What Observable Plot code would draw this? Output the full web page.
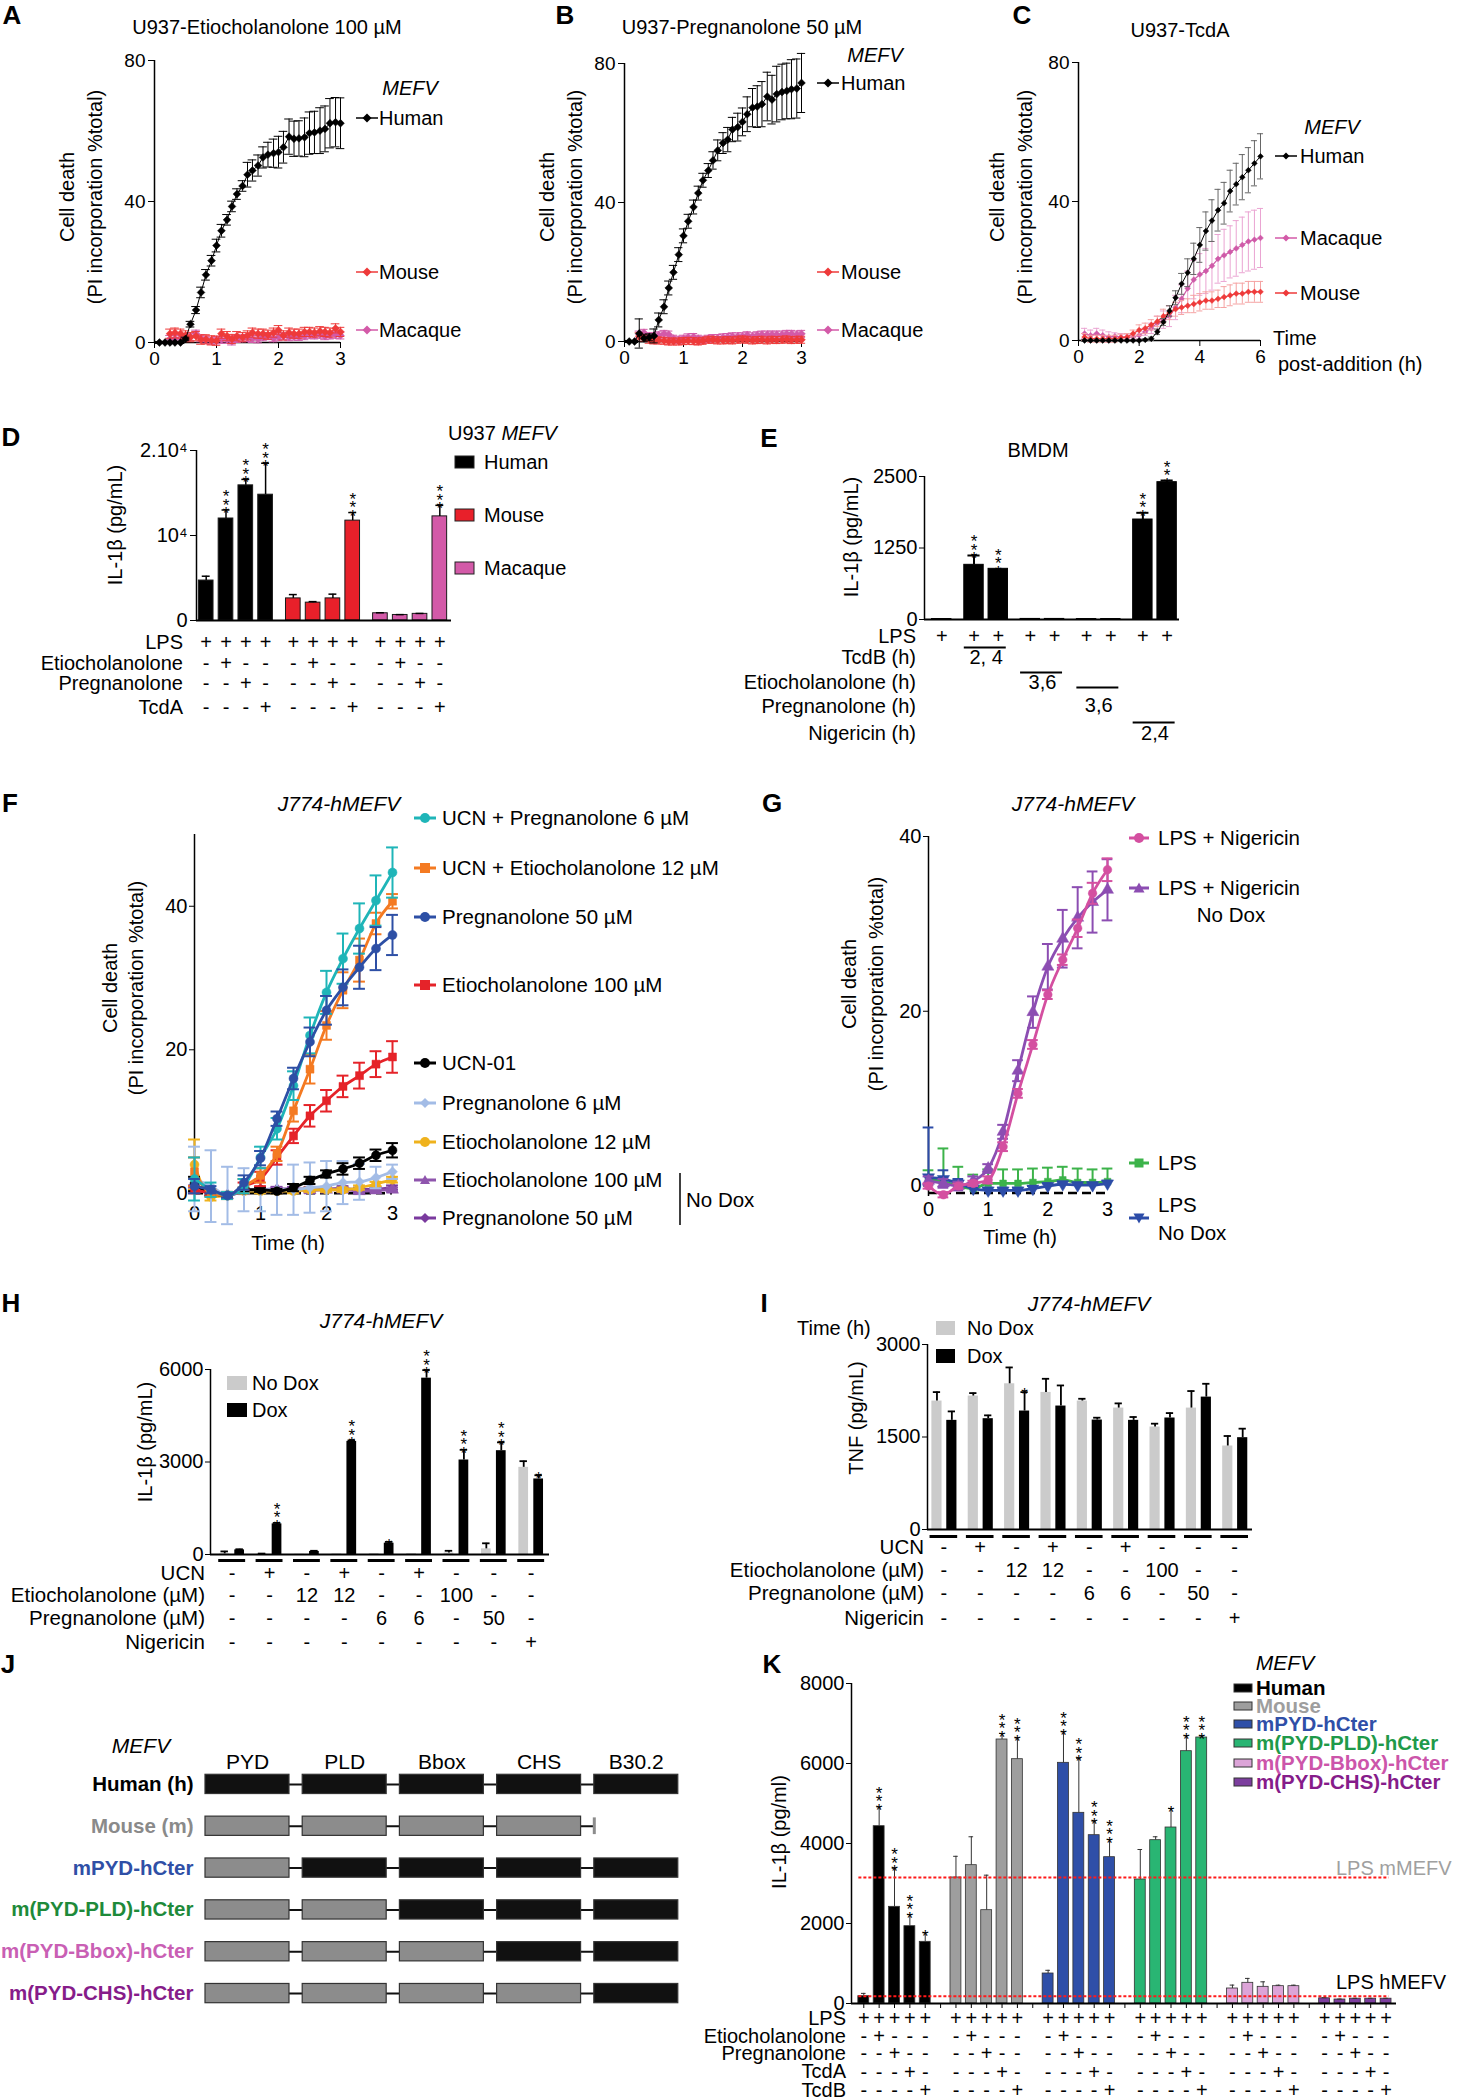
<!DOCTYPE html>
<html><head><meta charset="utf-8">
<script src="https://cdn.jsdelivr.net/npm/d3@7"></script>
<script src="https://cdn.jsdelivr.net/npm/@observablehq/plot@0.6"></script>
<style>
body{margin:0;background:#fff;}
#root{position:relative;width:1457px;height:2100px;background:#fff;overflow:hidden;}
</style></head><body><div id="root"></div>
<script>
// ================= DATA =================
// Panel A – U937 Etiocholanolone 100 µM (cell death, %)
const tA = [0.08,0.17,0.25,0.33,0.42,0.5,0.58,0.67,0.75,0.83,0.92,1.0,1.08,1.17,1.25,1.33,1.42,1.5,1.58,1.67,1.75,1.83,1.92,2.0,2.08,2.17,2.25,2.33,2.42,2.5,2.58,2.67,2.75,2.83,2.92,3.0];
const humanA = [0,0,0,0,0,1,5.2,9.2,14.2,19.2,23.2,27.5,31.7,34.8,38.6,42.1,44.4,47.6,48.8,50.2,52.5,53.3,53.7,54.0,55.4,58.4,57.8,57.9,58.2,59.4,59.6,60.1,60.6,62.2,62.5,62.2];
const humanAErr = [0.3,0.3,0.3,0.3,0.3,0.5,0.8,1,1.5,1.5,1.5,1.8,1.8,1.5,1.5,1.5,1.5,3.5,3,3,3,3.5,4,4.5,4.5,5,5,5,5.5,6,6,6.5,6.5,7,7,7.2];
const mouseA = [null,null,2.5,2.8,2.5,2.0,1.5,1.8,0.8,0.9,0.6,0.5,2.5,1.8,1.0,1.8,1.5,2.0,2.8,2.5,2.5,2.2,2.8,3.5,2.0,2.8,2.5,2.5,3.0,3.0,2.8,3.2,3.0,2.8,4.0,3.0];
const macaqueA = [null,null,1.0,1.0,1.2,1.5,1.6,2.5,1.2,0.8,0.5,0.6,0.8,0.8,0.3,1.0,1.2,1.3,1.0,0.9,1.5,1.8,1.2,1.5,1.8,1.5,1.7,1.6,1.8,2.2,2.0,2.2,1.8,2.0,2.2,2.0];
// Panel B – U937 Pregnanolone 50 µM
const tB = [0.08,0.17,0.25,0.33,0.42,0.5,0.58,0.67,0.75,0.83,0.92,1.0,1.08,1.17,1.25,1.33,1.42,1.5,1.58,1.67,1.75,1.83,1.92,2.0,2.08,2.17,2.25,2.33,2.42,2.5,2.58,2.67,2.75,2.83,2.92,3.0];
const humanB = [0,0,2.3,0.9,1.2,1.6,6.2,10,15.4,19.9,25,30.4,34.6,38.7,42.7,46.4,49.2,52.1,55.0,57.1,58.1,61.0,61.7,63.2,65.4,67.3,67.6,68.3,70.5,69.6,71.2,71.8,72.1,72.6,72.8,74.4];
const humanBErr = [0.3,0.3,4.2,1,1,2,2,2,2,2,2,2,2,2,2,2,2,2.5,3,3,3.5,3.5,4,4,5,5.5,6,6.5,7,7,8,8,8,8.5,8.5,8.5];
const mouseB = [null,null,1.5,1.0,0.5,0.3,0.3,0.2,0,0,0,0.1,0.2,0.1,0,0.2,0.5,0.5,0.3,0.3,0.4,0.3,0.5,0.6,0.5,0.3,0.4,0.5,0.3,0.5,0.4,0.5,0.6,0.4,0.5,0.5];
const macaqueB = [null,null,2.0,2.5,1.5,1.5,1.8,2.2,2.0,0.8,0.5,0.8,1.2,1.3,0.8,0.5,0.8,1.0,1.0,1.2,1.3,1.5,1.5,1.5,1.8,1.5,1.8,2.0,2.0,2.0,2.0,2.0,2.2,2.2,2.0,2.2];
// Panel C – U937 TcdA
const tC = [0.2,0.4,0.6,0.8,1.0,1.2,1.4,1.6,1.8,2.0,2.2,2.4,2.6,2.8,3.0,3.2,3.4,3.6,3.8,4.0,4.2,4.4,4.6,4.8,5.0,5.2,5.4,5.6,5.8,6.0];
const humanC = [0,0,0,0,0,0,0,0,0,0,0.2,0.5,2.5,5.3,8.5,12.3,16.3,19.5,23.5,27.5,31.5,34.5,37.5,39.5,43,45,47,49,51,53];
const humanCErr = [0.3,0.3,0.3,0.3,0.3,0.3,0.3,0.3,0.3,0.3,0.3,0.5,0.8,1,1.5,2,3,4,4.5,5,5.5,6,6,6,6,6,6.5,6.5,6.5,6.5];
const macaqueC = [2.0,1.5,2.0,1.5,1.0,1.2,1.0,0.8,1.0,1.5,2.5,3.5,5.0,6.0,7.0,9.5,12,15,17.5,19,20,21.5,23.5,24.5,25.5,26.5,27.5,28.5,29,29.5];
const macaqueCErr = [1.5,1.5,1.5,1.5,1.5,1,1,1,1,1,1,1.5,2,2.5,3,3.5,4,5,5.5,6,6.5,7,7,7.5,7.5,8,8,8.5,8.5,8.5];
const mouseC = [1.0,0.5,0.5,0.5,0.5,0.5,0.8,1.0,2.0,3.0,3.5,4.5,5.5,7,8,9,9.5,10,10.5,11,11.5,11.5,12,12.5,13,13.5,13.5,14,14,14];
const mouseCErr = [1,1,1,1,1,1,1,1,1,1.5,1.5,1.5,1.5,2,2,2,2,2,2.5,2.5,2.5,2.5,2.5,3,3,3,3,3,3,3];

// Panel D – U937 IL-1β (pg/mL)
const dSpecies = ["Human","Mouse","Macaque"];
const dColors = ["#000000","#e8202a","#d35aa8"];
const dHuman = [4700,12000,15900,14800];   const dHumanErr = [510,1000,700,3700];
const dMouse = [2600,2100,2600,11750];     const dMouseErr = [450,120,500,950];
const dMacaque = [850,650,780,12250];      const dMacaqueErr = [60,40,50,1300];
const dHumanStars = ["","***","***","***"];
const dMouseStars = ["","","","***"];
const dMacaqueStars = ["","","","***"];
const dLPS = ["+","+","+","+"];
const dEtio = ["-","+","-","-"];
const dPreg = ["-","-","+","-"];
const dTcdA = ["-","-","-","+"];

// Panel E – BMDM IL-1β
const eValues = [8,956,886,10,10,8,8,1748,2401];
const eErr = [0,163,0,0,0,0,0,117,29];
const eStars = ["","***","***","","","","","***","***"];
const eBarGroup = [0,1,1,2,2,3,3,4,4];
const eBarSlot = [0,0,1,0,1,0,1,0,1];
const eGroupNames = ["TcdB (h)","Etiocholanolone (h)","Pregnanolone (h)","Nigericin (h)"];
const eGroupTimes = ["2, 4","3,6","3,6","2,4"];

// Panel F – J774-hMEFV cell death
const tF = [0,0.25,0.5,0.75,1,1.25,1.5,1.75,2,2.25,2.5,2.75,3];
const fUcnPreg6 = [2.0,0.5,-0.3,1.0,5.0,9.0,15.0,22.0,28.0,32.7,36.9,40.8,44.7];
const fUcnPreg6Err = [3,1,0.5,1,1.5,1.5,2,2.5,3,3.5,3.5,3.5,3.5];
const fUcnEtio12 = [3.0,0,-0.3,1.0,2.5,5.5,11.5,17.3,23.4,28.3,32.5,37.6,40.7];
const fUcnEtio12Err = [2,0.5,0.5,1,1,1,1.5,2,2,2.5,3,1.5,1];
const fPreg50 = [1.0,0.5,-0.3,1.5,4.9,10.4,16.0,21.1,25.5,28.7,31.5,34.1,36.0];
const fPreg50Err = [1,0.5,0.3,1,1,1,1.5,2,2,2.5,3,3,2.8];
const fEtio100 = [0.5,0,-0.3,1.0,2.0,5.0,8.0,10.8,12.9,14.9,16.4,18.0,19.0];
const fEtio100Err = [0.5,0.3,0.3,0.5,1,1,1,1.5,1.5,1.5,1.8,1.8,2.2];
const fUcn = [1.3,0,-0.3,0.5,0.5,0.3,0.8,1.8,2.7,3.4,4.2,5.3,6.0];
const fUcnErr = [1,0.3,0.3,0.3,0.3,0.3,0.5,0.5,0.5,0.8,0.8,0.8,1];
const fPreg6 = [2.0,1.0,-0.3,0.5,0.5,0.5,0.5,0.8,1.0,1.5,1.6,2.2,3.0];
const fPreg6Err = [4.5,5,4,3,3,3.5,3.5,3.5,3.5,3,2.5,1.5,1];
const fEtio12 = [4.0,-0.5,-0.3,0.3,0.3,0.3,0.3,0.5,0.5,0.5,0.8,1.3,1.9];
const fEtio12Err = [3.5,0.5,0.3,0.3,0.3,0.3,0.3,0.3,0.3,0.3,0.3,0.3,0.4];
const fEtio100NoDox = [0.5,0,-0.3,0.3,0.5,0.5,0.5,0.4,0.5,0.5,0.3,0.4,0.5];
const fPreg50NoDox = [0.8,0.3,-0.3,0.3,0.5,0.6,0.6,0.6,0.6,0.7,0.5,0.6,0.8];
const fLabels = ["UCN + Pregnanolone 6 µM","UCN + Etiocholanolone 12 µM","Pregnanolone 50 µM","Etiocholanolone 100 µM","UCN-01","Pregnanolone 6 µM","Etiocholanolone 12 µM","Etiocholanolone 100 µM","Pregnanolone 50 µM"];
const fColors = ["#1fb5b8","#f47a22","#2d4fa5","#e52329","#000000","#a3bce6","#efb21d","#8f55ad","#7a3a9e"];

// Panel G – J774-hMEFV nigericin
const tG = [0,0.25,0.5,0.75,1,1.25,1.5,1.75,2,2.25,2.5,2.75,3];
const gNig = [0,-1,0,0.3,0.7,4.5,10.6,16.2,21.9,25.9,29.5,33.5,36.2];
const gNigErr = [0.3,0.3,0.3,0.3,0.4,0.5,0.5,0.5,0.5,0.6,1,1.2,1.3];
const gNigNoDox = [0.6,0.3,0,0.6,2.0,6.2,13.2,19.9,25.1,28.3,30.7,32.5,33.9];
const gNigNoDoxErr = [0.5,0.5,0.5,0.5,0.5,0.8,1.2,1.8,2.6,3.3,3.5,3.5,3.5];
const gLps = [0.8,0.5,0,-0.3,0.3,0.3,0.3,0.4,0.5,0.7,0.4,0.4,0.5];
const gLpsErr = [1,3.8,2.2,1.6,1.6,1.6,1.6,1.6,1.6,1.5,1.6,1.5,1.5];
const gLpsNoDox = [1.0,0.8,0.3,-0.3,-0.5,-0.5,-0.5,-0.3,0,0.2,0.1,0.1,0.3];
const gLpsNoDoxErr = [5.7,1,0.5,0.3,0.3,0.3,0.3,0.3,0.3,0.3,0.3,0.3,0.3];
const gColors = ["#d44fa0","#8c4db2","#3cb34a","#2c4ca8"];

// Panel H – J774-hMEFV IL-1β
const hNoDox = [20,20,10,20,30,30,50,183,2827];
const hNoDoxErr = [80,10,0,0,0,0,70,180,200];
const hDox = [150,993,100,3669,367,5719,3065,3367,2450];
const hDoxErr = [20,30,20,30,40,260,330,270,120];
const hStars = ["","***","","***","*","***","***","***","*"];
const hUCN = ["-","+","-","+","-","+","-","-","-"];
const hEtio = ["-","-","12","12","-","-","100","-","-"];
const hPreg = ["-","-","-","-","6","6","-","50","-"];
const hNig = ["-","-","-","-","-","-","-","-","+"];

// Panel I – J774-hMEFV TNF
const iNoDox = [2083,2164,2363,2223,2083,1969,1662,1969,1354];
const iNoDoxErr = [145,48,265,221,37,76,54,276,162];
const iDox = [1770,1797,1921,2002,1775,1770,1808,2147,1489];
const iDoxErr = [145,54,307,334,38,54,80,216,146];
const iStars = ["","","*","","","","","",""];

// Panel J – MEFV constructs
const jRows = ["Human (h)","Mouse (m)","mPYD-hCter","m(PYD-PLD)-hCter","m(PYD-Bbox)-hCter","m(PYD-CHS)-hCter"];
const jColors = ["#000000","#8a8a8a","#2f4fa6","#1e8a3a","#c95fb4","#861c8a"];
const jDomains = ["PYD","PLD","Bbox","CHS","B30.2"];
const jMouseDomains = [0,4,1,2,3,4];
const jHasB30 = [true,false,true,true,true,true];

// Panel K – IL-1β chimeras
const kConstructs = ["Human","Mouse","mPYD-hCter","m(PYD-PLD)-hCter","m(PYD-Bbox)-hCter","m(PYD-CHS)-hCter"];
const kColors = ["#000000","#9e9e9e","#2f4fa8","#29b573","#dca4d8","#7c3e9e"];
const kLegendText = ["#000000","#9e9e9e","#2f4fa8","#1f9a4a","#cc55aa","#861c8a"];
const kHuman = [183,4433,2417,1933,1542];  const kHumanErr = [70,480,960,290,225];
const kMouse = [3150,3458,2333,6600,6108]; const kMouseErr = [530,710,875,150,530];
const kMpyd = [750,6017,4767,4208,3658];   const kMpydErr = [80,775,1360,350,440];
const kPld = [3100,4083,4400,6308,6650];   const kPldErr = [750,85,475,385,40];
const kBbox = [375,517,417,433,433];       const kBboxErr = [85,110,125,25,25];
const kChs = [130,100,120,120,120];        const kChsErr = [15,10,10,10,10];
const kHumanStars = ["","***","***","***","*"];
const kMouseStars = ["","","","***","***"];
const kMpydStars = ["","***","***","***","***"];
const kPldStars = ["","","*","***","***"];
const kNoStars = ["","","","",""];
const kLPS = ["+","+","+","+","+"];
const kEtio = ["-","+","-","-","-"];
const kPreg = ["-","-","+","-","-"];
const kTcdA = ["-","-","-","+","-"];
const kTcdB = ["-","-","-","-","+"];

// ================= HELPERS =================
const SANS = "'Liberation Sans', Arial, Helvetica, sans-serif";
const root = document.getElementById("root");

function chart(f, m, opts, fs = 20) {
  const [x0, x1, y0, y1] = f, [ml, mr, mt, mb] = m;
  const svg = Plot.plot({
    width: x1 - x0 + ml + mr, height: y1 - y0 + mt + mb,
    marginLeft: ml, marginRight: mr, marginTop: mt, marginBottom: mb,
    color: {type: "identity"},
    ...opts,
    style: {background: "transparent", overflow: "visible", fontFamily: SANS, fontSize: fs + "px", color: "#000"}
  });
  svg.style.position = "absolute";
  svg.style.left = (x0 - ml) + "px";
  svg.style.top = (y0 - mt) + "px";
  svg.style.maxWidth = "none";
  root.appendChild(svg);
  return svg;
}

function seriesMarks(ts, vs, es, o) {
  const rows = ts.map((t, i) => ({t, v: vs[i], e: Array.isArray(es) ? es[i] : (es || 0)})).filter(d => d.v != null);
  const withE = rows.filter(d => d.e > 0);
  const ec = o.ecolor || o.color, ew = o.ew ?? 1, cap = o.cap ?? 0.05;
  const marks = [
    Plot.ruleX(withE, {x: "t", y1: d => o.up ? d.v : d.v - d.e, y2: d => d.v + d.e, stroke: ec, strokeWidth: ew}),
    Plot.ruleY(withE, {y: d => d.v + d.e, x1: d => d.t - cap, x2: d => d.t + cap, stroke: ec, strokeWidth: ew})
  ];
  if (!o.up) marks.push(Plot.ruleY(withE, {y: d => d.v - d.e, x1: d => d.t - cap, x2: d => d.t + cap, stroke: ec, strokeWidth: ew}));
  marks.push(Plot.line(rows, {x: "t", y: "v", stroke: o.color, strokeWidth: o.lw ?? 1.2, curve: o.curve || "linear"}));
  marks.push(Plot.dot(rows, {x: "t", y: "v", symbol: o.symbol || "circle", r: o.r ?? 3.5, fill: o.color, stroke: o.color, strokeWidth: 0.5}));
  return marks;
}

function barMarks(rows, o) {
  const withE = rows.filter(d => d.e > 0);
  const ec = o.ecolor || "#000";
  return [
    Plot.rect(rows, {x1: d => d.pos - o.hw, x2: d => d.pos + o.hw, y1: 0, y2: "v", fill: "fill", stroke: o.stroke || "none", strokeWidth: o.sw ?? 1}),
    Plot.ruleX(withE, {x: "pos", y1: "v", y2: d => d.v + d.e, stroke: ec, strokeWidth: o.ew ?? 1.5}),
    Plot.ruleY(withE, {y: d => d.v + d.e, x1: d => d.pos - o.cw, x2: d => d.pos + o.cw, stroke: ec, strokeWidth: o.ew ?? 1.5}),
    Plot.text(rows.filter(d => d.s), {x: "pos", y: d => d.v + d.e, text: d => d.s.split("").join("\n"), lineAnchor: "bottom", lineHeight: o.slh ?? 0.5, dy: o.sdy ?? 9, fontSize: o.sfs ?? 17})
  ];
}

const tableText = (rows, field, dy, extra = {}) =>
  Plot.text(rows, {x: "pos", text: field, frameAnchor: "bottom", lineAnchor: "middle", dy, ...extra});

function T(html, x, y, o = {}) {
  const d = document.createElement("div");
  d.innerHTML = html;
  const a = o.rot ? "middle" : (o.a || "start");
  const tx = a === "middle" ? "-50%" : a === "end" ? "-100%" : "0%";
  Object.assign(d.style, {
    position: "absolute", left: x + "px", top: y + "px", whiteSpace: "nowrap", lineHeight: "1",
    fontFamily: SANS, fontSize: (o.s || 20) + "px", fontWeight: o.w || "normal",
    color: o.c || "#000",
    transformOrigin: "50% 50%",
    transform: `translate(${tx}, -50%)` + (o.rot ? " rotate(-90deg)" : "")
  });
  root.appendChild(d);
}

function markerPath(shape, s) {
  switch (shape) {
    case "diamond": return `M0,${-s}L${s},0L0,${s}L${-s},0Z`;
    case "square": return `M${-s},${-s}H${s}V${s}H${-s}Z`;
    case "triangle": return `M0,${-s}L${s},${s * 0.8}L${-s},${s * 0.8}Z`;
    case "triDown": return `M0,${s}L${s},${-s * 0.8}L${-s},${-s * 0.8}Z`;
    default: return `M${s},0A${s},${s} 0 1,1 ${-s},0A${s},${s} 0 1,1 ${s},0Z`;
  }
}
const triDown = {draw(ctx, size) { const y = -Math.sqrt(size / (Math.sqrt(3) * 3)); const s = Math.sqrt(3); ctx.moveTo(0, -y * 2); ctx.lineTo(-s * y, y); ctx.lineTo(s * y, y); ctx.closePath(); }};

// ================= PANEL A =================
const cHuman = "#000000", cMouse = "#ee3a3a", cMacaque = "#d35aa8";
chart([154, 340, 60, 342], [45, 10, 10, 45], {
  x: {domain: [0, 3], ticks: [0, 1, 2, 3], tickFormat: "d", tickSize: 6, tickPadding: 3, label: null},
  y: {domain: [0, 80], ticks: [0, 40, 80], tickFormat: "d", tickSize: 6, tickPadding: 3, label: null},
  marks: [
    Plot.ruleX([0], {strokeWidth: 1.5}), Plot.ruleY([0], {strokeWidth: 1.5}),
    ...seriesMarks(tA, macaqueA, 1.0, {color: cMacaque, symbol: "diamond2", r: 3.5, cap: 0.07}),
    ...seriesMarks(tA, mouseA, 1.3, {color: cMouse, symbol: "diamond2", r: 3.5, cap: 0.07}),
    ...seriesMarks(tA, humanA, humanAErr, {color: cHuman, symbol: "diamond2", r: 3.5, cap: 0.07, lw: 1})
  ]
}, 19);

// ================= PANEL B =================
chart([624, 801, 63, 341], [45, 10, 10, 45], {
  x: {domain: [0, 3], ticks: [0, 1, 2, 3], tickFormat: "d", tickSize: 6, tickPadding: 3, label: null},
  y: {domain: [0, 80], ticks: [0, 40, 80], tickFormat: "d", tickSize: 6, tickPadding: 3, label: null},
  marks: [
    Plot.ruleX([0], {strokeWidth: 1.5}), Plot.ruleY([0], {strokeWidth: 1.5}),
    ...seriesMarks(tB, macaqueB, 1.0, {color: cMacaque, symbol: "diamond2", r: 3.5, cap: 0.07}),
    ...seriesMarks(tB, mouseB, 1.0, {color: cMouse, symbol: "diamond2", r: 3.5, cap: 0.07}),
    ...seriesMarks(tB, humanB, humanBErr, {color: cHuman, symbol: "diamond2", r: 3.5, cap: 0.07, lw: 1})
  ]
}, 19);

// ================= PANEL C =================
chart([1078, 1260, 62, 340], [45, 10, 10, 45], {
  x: {domain: [0, 6], ticks: [0, 2, 4, 6], tickFormat: "d", tickSize: 6, tickPadding: 3, label: null},
  y: {domain: [0, 80], ticks: [0, 40, 80], tickFormat: "d", tickSize: 6, tickPadding: 3, label: null},
  marks: [
    Plot.ruleX([0], {strokeWidth: 1.5}), Plot.ruleY([0], {strokeWidth: 1.5}),
    ...seriesMarks(tC, macaqueC, macaqueCErr, {color: "#cf5aa8", ecolor: "#eaa4d2", symbol: "diamond2", r: 2.6, cap: 0.1}),
    ...seriesMarks(tC, mouseC, mouseCErr, {color: cMouse, ecolor: "#f5a3a3", symbol: "diamond2", r: 2.6, cap: 0.1}),
    ...seriesMarks(tC, humanC, humanCErr, {color: cHuman, ecolor: "#666", symbol: "diamond2", r: 2.6, cap: 0.1, lw: 1})
  ]
}, 19);

// ================= PANEL D =================
const dRows = [];
[[dHuman, dHumanErr, dHumanStars], [dMouse, dMouseErr, dMouseStars], [dMacaque, dMacaqueErr, dMacaqueStars]].forEach(([vals, errs, stars], g) => {
  vals.forEach((v, i) => dRows.push({pos: g * 4.4 + i, v, e: errs[i], s: stars[i], fill: dColors[g], lps: dLPS[i], etio: dEtio[i], preg: dPreg[i], tcda: dTcdA[i]}));
});
chart([196, 451, 450, 620], [75, 10, 40, 100], {
  x: {domain: [-0.49, 12.39], axis: null},
  y: {domain: [0, 20000], ticks: [0, 10000, 20000], tickSize: 6, tickPadding: 3, label: null,
      tickFormat: d => d === 0 ? "0" : d === 10000 ? "10⁴" : "2.10⁴"},
  marks: [
    Plot.ruleX([-0.49], {strokeWidth: 1.5}),
    ...barMarks(dRows, {hw: 0.37, cw: 0.2, stroke: "#1a1a1a", sw: 1, ew: 1.5}),
    Plot.ruleY([0], {strokeWidth: 2}),
    tableText(dRows, "lps", 22), tableText(dRows, "etio", 43), tableText(dRows, "preg", 63), tableText(dRows, "tcda", 87)
  ]
}, 20);

// ================= PANEL E =================
const ePos = (g, slot) => g === 0 ? 0 : 1.33 + (g - 1) * 2.32 + slot;
const eRows = eValues.map((v, i) => ({pos: ePos(eBarGroup[i], eBarSlot[i]), v, e: eErr[i], s: eStars[i], fill: "#000", lps: "+"}));
const eMarks = [];
eGroupNames.forEach((name, g) => {
  const grp = [{a: ePos(g + 1, 0), b: ePos(g + 1, 1), txt: eGroupTimes[g]}];
  const lineDy = [28, 53, 68, 103][g], textDy = [38, 63, 86, 114][g];
  eMarks.push(Plot.ruleY(grp, {y: 0, x1: d => d.a - 0.4, x2: d => d.b + 0.33, dy: lineDy, strokeWidth: 2.2}));
  eMarks.push(Plot.text(grp, {x: d => (d.a + d.b) / 2, text: "txt", frameAnchor: "bottom", lineAnchor: "middle", dy: textDy}));
});
chart([924, 1179, 476, 619], [60, 10, 50, 130], {
  x: {domain: [-0.71, 9.8], axis: null},
  y: {domain: [0, 2500], ticks: [0, 1250, 2500], tickFormat: "d", tickSize: 5, tickPadding: 2, label: null},
  marks: [
    Plot.ruleX([-0.71], {strokeWidth: 1.5}),
    ...barMarks(eRows, {hw: 0.4, cw: 0.25, stroke: "#000", ew: 2}),
    Plot.ruleY([0], {strokeWidth: 2}),
    tableText(eRows, "lps", 17),
    ...eMarks
  ]
}, 20);

// ================= PANEL F =================
const fSeries = [
  [fPreg50NoDox, 0.3, 8, "diamond2"], [fEtio100NoDox, 0.3, 7, "triangle"], [fEtio12, fEtio12Err, 6, "circle"],
  [fPreg6, fPreg6Err, 5, "diamond2"], [fUcn, fUcnErr, 4, "circle"], [fEtio100, fEtio100Err, 3, "square"],
  [fUcnEtio12, fUcnEtio12Err, 1, "square"], [fUcnPreg6, fUcnPreg6Err, 0, "circle"], [fPreg50, fPreg50Err, 2, "circle"]
];
chart([194, 392, 834, 1200], [50, 10, 10, 30], {
  x: {domain: [0, 3], ticks: [0, 1, 2, 3], tickFormat: "d", tickSize: 0, tickPadding: 5, label: null},
  y: {domain: [-1, 50], ticks: [0, 20, 40], tickFormat: "d", tickSize: 5, tickPadding: 2, label: null},
  marks: [
    Plot.ruleX([0], {strokeWidth: 1.5}),
    Plot.ruleY([0], {strokeWidth: 2.5, strokeDasharray: "9,5"}),
    ...fSeries.flatMap(([vals, errs, ci, sym]) => seriesMarks(tF, vals, errs, {color: fColors[ci], symbol: sym, r: 4.5, cap: 0.09, lw: 2.8, ew: 2, curve: "monotone-x"}))
  ]
}, 20);

// ================= PANEL G =================
chart([928, 1107, 836, 1196], [50, 10, 10, 30], {
  x: {domain: [0, 3], ticks: [0, 1, 2, 3], tickFormat: "d", tickSize: 0, tickPadding: 5, label: null},
  y: {domain: [-1.2, 40], ticks: [0, 20, 40], tickFormat: "d", tickSize: 5, tickPadding: 2, label: null},
  marks: [
    Plot.ruleX([0], {strokeWidth: 1.5}),
    Plot.ruleY([-0.8], {strokeWidth: 2.5, strokeDasharray: "9,5"}),
    ...seriesMarks(tG, gLps, gLpsErr, {color: gColors[2], symbol: "square", r: 3.8, cap: 0.09, lw: 2.8, ew: 2, up: true, curve: "monotone-x"}),
    ...seriesMarks(tG, gLpsNoDox, gLpsNoDoxErr, {color: gColors[3], symbol: triDown, r: 4.5, cap: 0.09, lw: 2.8, ew: 2, up: true, curve: "monotone-x"}),
    ...seriesMarks(tG, gNigNoDox, gNigNoDoxErr, {color: gColors[1], symbol: "triangle", r: 4.5, cap: 0.09, lw: 2.8, ew: 2, curve: "monotone-x"}),
    ...seriesMarks(tG, gNig, gNigErr, {color: gColors[0], symbol: "circle", r: 4.3, cap: 0.09, lw: 2.8, ew: 2, curve: "monotone-x"})
  ]
}, 20);

// ================= PANEL H =================
const hRows = [], hGroups = hDox.map((v, g) => ({g, pos: g, ucn: hUCN[g], etio: hEtio[g], preg: hPreg[g], nig: hNig[g]}));
hDox.forEach((v, g) => {
  hRows.push({pos: g - 0.2, v: hNoDox[g], e: hNoDoxErr[g], s: "", fill: "#cbcbcb"});
  hRows.push({pos: g + 0.2, v, e: hDoxErr[g], s: hStars[g], fill: "#000"});
});
chart([210, 549, 1369, 1554], [60, 10, 40, 100], {
  x: {domain: [-0.58, 8.49], axis: null},
  y: {domain: [0, 6000], ticks: [0, 3000, 6000], tickFormat: "d", tickSize: 5, tickPadding: 2, label: null},
  marks: [
    Plot.ruleX([-0.58], {strokeWidth: 1.5}),
    ...barMarks(hRows, {hw: 0.13, cw: 0.1, ew: 1.8}),
    Plot.ruleY([0], {strokeWidth: 2}),
    Plot.ruleY(hGroups, {y: 0, x1: d => d.g - 0.36, x2: d => d.g + 0.36, dy: 6, strokeWidth: 3}),
    tableText(hGroups, "ucn", 19), tableText(hGroups, "etio", 41), tableText(hGroups, "preg", 64), tableText(hGroups, "nig", 88)
  ]
}, 20);

// ================= PANEL I =================
const iRows = [], iGroups = iDox.map((v, g) => ({g, pos: g, ucn: hUCN[g], etio: hEtio[g], preg: hPreg[g], nig: hNig[g]}));
iDox.forEach((v, g) => {
  iRows.push({pos: g - 0.19, v: iNoDox[g], e: iNoDoxErr[g], s: "", fill: "#cbcbcb"});
  iRows.push({pos: g + 0.22, v, e: iDoxErr[g], s: iStars[g], fill: "#000"});
});
chart([927, 1252, 1344, 1529], [60, 10, 20, 100], {
  x: {domain: [-0.45, 8.49], axis: null},
  y: {domain: [0, 3000], ticks: [0, 1500, 3000], tickFormat: "d", tickSize: 5, tickPadding: 2, label: null},
  marks: [
    Plot.ruleX([-0.45], {strokeWidth: 1.5}),
    ...barMarks(iRows, {hw: 0.14, cw: 0.1, ew: 1.8, sdy: 8}),
    Plot.ruleY([0], {strokeWidth: 2}),
    Plot.ruleY(iGroups, {y: 0, x1: d => d.g - 0.38, x2: d => d.g + 0.38, dy: 7, strokeWidth: 3}),
    tableText(iGroups, "ucn", 18), tableText(iGroups, "etio", 41), tableText(iGroups, "preg", 64), tableText(iGroups, "nig", 89)
  ]
}, 20);

// ================= PANEL J =================
const jBoxRows = [];
jRows.forEach((name, r) => {
  const n = jHasB30[r] ? jDomains.length : jDomains.length - 1;
  for (let k = 0; k < n; k++) jBoxRows.push({r, k, fill: k < jMouseDomains[r] ? "#8c8c8c" : "#111111"});
});
const jLinkRows = jRows.map((name, r) => ({r, end: jHasB30[r] ? jDomains.length - 0.5 : jDomains.length - 1}));
chart([205, 691, 1763, 2014], [205, 10, 30, 10], {
  x: {domain: [0, 5], axis: null},
  y: {domain: [5.5, -0.5], axis: null},
  marks: [
    Plot.ruleY(jLinkRows, {y: "r", x1: 0.5, x2: "end", stroke: "#111", strokeWidth: 2}),
    Plot.rect(jBoxRows, {x1: "k", x2: d => d.k + 0.864, y1: d => d.r - 0.23, y2: d => d.r + 0.23, fill: "fill", stroke: "#333", strokeWidth: 1.2}),
    Plot.ruleX(jLinkRows.filter(d => !jHasB30[d.r]), {x: "end", y1: d => d.r - 0.2, y2: d => d.r + 0.2, stroke: "#8c8c8c", strokeWidth: 3}),
    Plot.text(jDomains, {x: (d, k) => k + 0.432, frameAnchor: "top", lineAnchor: "middle", dy: -1, text: d => d}),
    Plot.text(jRows, {y: (d, r) => r, frameAnchor: "left", textAnchor: "end", dx: -12, text: d => d, fill: (d, r) => jColors[r], fontWeight: "bold", fontSize: 20.5})
  ]
}, 21);

// ================= PANEL K =================
const kRows = [];
[[kHuman, kHumanErr, kHumanStars], [kMouse, kMouseErr, kMouseStars], [kMpyd, kMpydErr, kMpydStars],
 [kPld, kPldErr, kPldStars], [kBbox, kBboxErr, kNoStars], [kChs, kChsErr, kNoStars]].forEach(([vals, errs, stars], g) => {
  vals.forEach((v, i) => kRows.push({pos: g * 6 + i, v, e: errs[i], s: stars[i], fill: kColors[g], lps: kLPS[i], etio: kEtio[i], preg: kPreg[i], tcda: kTcdA[i], tcdb: kTcdB[i]}));
});
const kTicks = d3.range(0, 35);
chart([851, 1396, 1683, 2003], [60, 10, 40, 100], {
  x: {domain: [-0.8, 34.68], ticks: kTicks, tickFormat: () => "", tickSize: 5, label: null},
  y: {domain: [0, 8000], ticks: [0, 2000, 4000, 6000, 8000], tickFormat: "d", tickSize: 5, tickPadding: 2, label: null},
  marks: [
    Plot.ruleX([-0.8], {strokeWidth: 1.5}),
    ...barMarks(kRows, {hw: 0.355, cw: 0.15, stroke: "#333", sw: 0.8, ecolor: "#333", ew: 1, sdy: 9, slh: 0.5}),
    Plot.ruleY([kMouse[0], kHuman[0]], {x1: -0.32, x2: 34.2, stroke: "#ff1a1a", strokeWidth: 2, strokeDasharray: "3,2"}),
    Plot.ruleY([0], {strokeWidth: 2}),
    tableText(kRows, "lps", 15), tableText(kRows, "etio", 33), tableText(kRows, "preg", 50), tableText(kRows, "tcda", 69), tableText(kRows, "tcdb", 87)
  ]
}, 20);

// ================= LEGEND SWATCHES (overlay) =================
const ov = d3.create("svg").attr("width", 1457).attr("height", 2100)
  .style("position", "absolute").style("left", "0px").style("top", "0px").style("overflow", "visible");
root.appendChild(ov.node());
function swLine(x1, x2, y, color, shape, s, lw = 1.5) {
  ov.append("line").attr("x1", x1).attr("x2", x2).attr("y1", y).attr("y2", y).attr("stroke", color).attr("stroke-width", lw);
  if (shape) ov.append("path").attr("d", markerPath(shape, s)).attr("transform", `translate(${(x1 + x2) / 2},${y})`).attr("fill", color);
}
function swRect(x, y, w, h, fill, stroke = "none") {
  ov.append("rect").attr("x", x).attr("y", y - h / 2).attr("width", w).attr("height", h).attr("fill", fill).attr("stroke", stroke);
}

// ================= TEXT =================
[["A", 12, 15], ["B", 565, 15], ["C", 1022, 15], ["D", 11, 437], ["E", 769, 438], ["F", 10, 803], ["G", 772, 803],
 ["H", 11, 1303], ["I", 764, 1303], ["J", 8, 1664], ["K", 772, 1664]].forEach(([l, x, y]) => T(l, x, y, {a: "middle", s: 26, w: "bold"}));

// A
T("U937-Etiocholanolone 100 µM", 267, 27, {a: "middle"});
T("Cell death", 67, 197, {rot: true}); T("(PI incorporation %total)", 95, 197, {rot: true});
T("<i>MEFV</i>", 410, 88, {a: "middle"});
[["Human", 118, cHuman], ["Mouse", 272, cMouse], ["Macaque", 330, cMacaque]].forEach(([n, y, c]) => { swLine(356, 378, y, c, "diamond", 4.5); T(n, 379, y); });
// B
T("U937-Pregnanolone 50 µM", 742, 27, {a: "middle"});
T("Cell death", 547, 197, {rot: true}); T("(PI incorporation %total)", 575, 197, {rot: true});
T("<i>MEFV</i>", 875, 55, {a: "middle"});
[["Human", 83, cHuman], ["Mouse", 272, cMouse], ["Macaque", 330, cMacaque]].forEach(([n, y, c]) => { swLine(817, 839, y, c, "diamond", 4.5); T(n, 841, y); });
// C
T("U937-TcdA", 1180, 30, {a: "middle"});
T("Cell death", 997, 197, {rot: true}); T("(PI incorporation %total)", 1025, 197, {rot: true});
T("<i>MEFV</i>", 1332, 127, {a: "middle"});
[["Human", 156, cHuman], ["Macaque", 238, cMacaque], ["Mouse", 293, cMouse]].forEach(([n, y, c]) => { swLine(1275, 1297, y, c, "diamond", 3.5); T(n, 1300, y); });
T("Time", 1273, 338); T("post-addition (h)", 1278, 364);
// D
T("U937 <i>MEFV</i>", 448, 433);
dSpecies.forEach((n, g) => { swRect(455, [462, 515, 568][g], 19, 12, dColors[g], "#222"); T(n, 484, [462, 515, 568][g]); });
T("IL-1β (pg/mL)", 115, 525, {rot: true});
[["LPS", 642], ["Etiocholanolone", 663], ["Pregnanolone", 683], ["TcdA", 707]].forEach(([n, y]) => T(n, 183, y, {a: "end"}));
// E
T("BMDM", 1038, 450, {a: "middle"});
T("IL-1β (pg/mL)", 851, 537, {rot: true});
T("LPS", 916, 636, {a: "end"});
eGroupNames.forEach((n, g) => T(n, 916, [657, 682, 706, 733][g], {a: "end"}));
// F
T("<i>J774-hMEFV</i>", 339, 803, {a: "middle", s: 21});
T("Cell death", 110, 988, {rot: true}); T("(PI incorporation %total)", 136, 988, {rot: true});
T("Time (h)", 288, 1243, {a: "middle"});
const fLegY = [818, 868, 917, 985, 1063, 1103, 1142, 1180, 1218];
const fLegShape = ["circle", "square", "circle", "square", "circle", "diamond", "circle", "triangle", "diamond"];
fLabels.forEach((n, i) => { swLine(414, 436, fLegY[i], fColors[i], fLegShape[i], 5, 3); T(n, 442, fLegY[i], {s: 20.5}); });
ov.append("line").attr("x1", 680).attr("x2", 680).attr("y1", 1173).attr("y2", 1225).attr("stroke", "#000").attr("stroke-width", 1.5);
T("No Dox", 686, 1200, {s: 20.5});
// G
T("<i>J774-hMEFV</i>", 1073, 803, {a: "middle", s: 21});
T("Cell death", 849, 984, {rot: true}); T("(PI incorporation %total)", 876, 984, {rot: true});
T("Time (h)", 1020, 1237, {a: "middle"});
swLine(1129, 1149, 838, gColors[0], "circle", 5, 3); T("LPS + Nigericin", 1158, 838, {s: 20.5});
swLine(1129, 1149, 888, gColors[1], "triangle", 5.5, 3); T("LPS + Nigericin", 1158, 888, {s: 20.5});
T("No Dox", 1231, 915, {a: "middle", s: 20.5});
swLine(1129, 1149, 1163, gColors[2], "square", 4.5, 3); T("LPS", 1158, 1163, {s: 20.5});
swLine(1129, 1149, 1218, gColors[3], "triDown", 5.5, 3); T("LPS", 1158, 1205, {s: 20.5}); T("No Dox", 1158, 1233, {s: 20.5});
// H
T("<i>J774-hMEFV</i>", 381, 1320, {a: "middle", s: 21});
T("IL-1β (pg/mL)", 145, 1442, {rot: true});
swRect(227, 1383, 20, 14, "#cbcbcb"); T("No Dox", 252, 1383);
swRect(227, 1410, 20, 14, "#000"); T("Dox", 252, 1410);
[["UCN", 1573], ["Etiocholanolone (µM)", 1595], ["Pregnanolone (µM)", 1618], ["Nigericin", 1642]].forEach(([n, y]) => T(n, 205, y, {a: "end", s: 20.5}));
// I
T("<i>J774-hMEFV</i>", 1089, 1303, {a: "middle", s: 21});
T("Time (h)", 797, 1328);
swRect(936, 1328, 19, 14, "#cbcbcb"); T("No Dox", 967, 1328);
swRect(936, 1356, 19, 14, "#000"); T("Dox", 967, 1356);
T("TNF (pg/mL)", 856, 1418, {rot: true});
[["UCN", 1547], ["Etiocholanolone (µM)", 1570], ["Pregnanolone (µM)", 1593], ["Nigericin", 1618]].forEach(([n, y]) => T(n, 924, y, {a: "end", s: 20.5}));
// J
T("<i>MEFV</i>", 141, 1745, {a: "middle", s: 21});
// K
T("<i>MEFV</i>", 1285, 1662, {a: "middle", s: 21});
const kLegY = [1688, 1706, 1724, 1743, 1763, 1782];
kConstructs.forEach((n, g) => { swRect(1234, kLegY[g], 18, 8, kColors[g], "#333"); T(n, 1256, kLegY[g], {s: 20.5, w: "bold", c: kLegendText[g]}); });
T("LPS mMEFV", 1336, 1868, {c: "#a0a0a0"});
T("LPS hMEFV", 1336, 1982);
T("IL-1β (pg/ml)", 779, 1832, {rot: true});
[["LPS", 2018], ["Etiocholanolone", 2036], ["Pregnanolone", 2053], ["TcdA", 2071], ["TcdB", 2090]].forEach(([n, y]) => T(n, 846, y, {a: "end"}));
</script></body></html>
